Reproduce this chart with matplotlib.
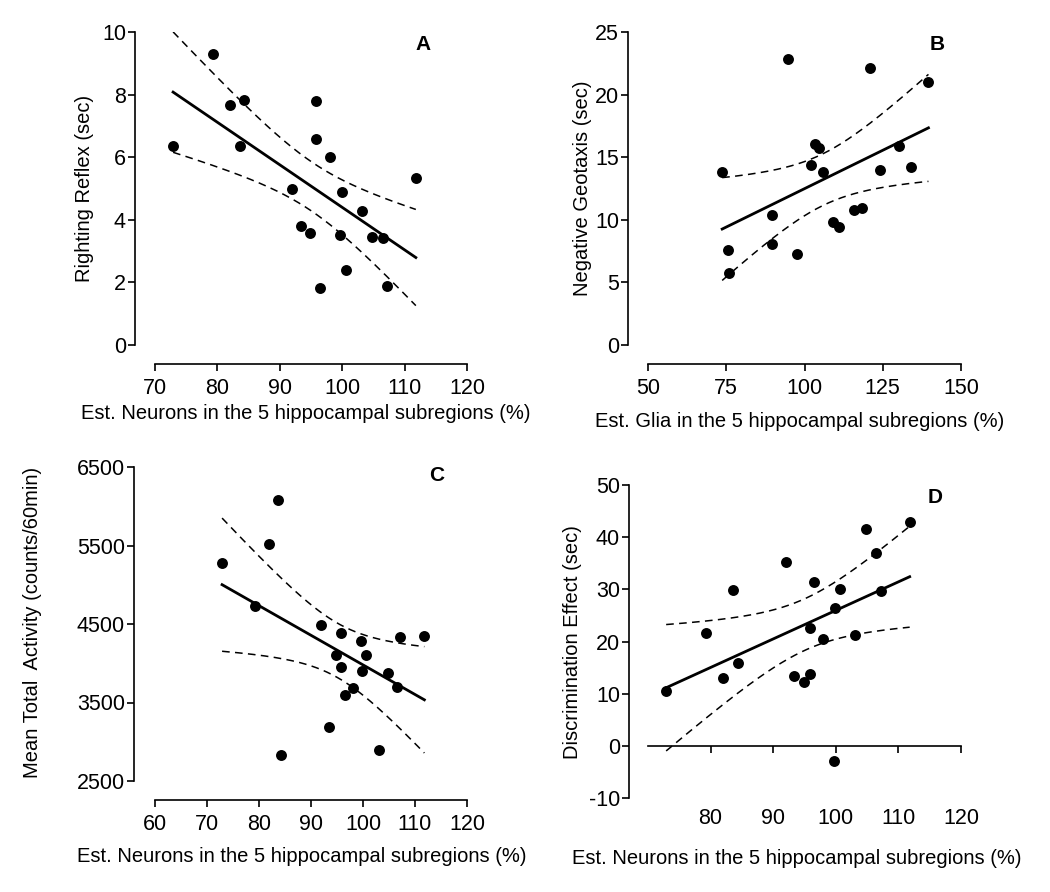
import numpy as np
import matplotlib
matplotlib.use("Agg")
import matplotlib.pyplot as plt

plt.rcParams['font.family'] = ['Liberation Sans', 'DejaVu Sans']
plt.rcParams['axes.unicode_minus'] = False

# Estimated neurons (%), shared by panels A, C and D
neurons = [72.9, 79.3, 82.0, 83.6, 84.3, 92.0, 93.4, 94.9, 95.8, 95.8,
           96.5, 98.0, 99.7, 99.9, 100.6, 103.1, 104.8, 106.5, 107.2, 111.8]
righting = [6.35, 9.31, 7.68, 6.37, 7.84, 4.97, 3.79, 3.59, 7.80, 6.59,
            1.82, 6.01, 3.50, 4.88, 2.39, 4.29, 3.44, 3.41, 1.88, 5.35]
activity = [5275, 4723, 5517, 6083, 2827, 4489, 3193, 4107, 4383, 3949,
            3597, 3686, 4281, 3898, 4107, 2895, 3881, 3703, 4332, 4349]
discrim = [10.6, 21.6, 13.0, 29.8, 15.8, 35.2, 13.4, 12.2, 22.5, 13.8,
           31.4, 20.5, -2.9, 26.4, 30.1, 21.2, 41.6, 36.9, 29.7, 42.9]

# Estimated glia (%) for panel B
glia = [73.7, 75.6, 75.8, 89.6, 89.6, 94.8, 97.5, 102.0, 103.2, 104.6,
        106.0, 109.0, 111.1, 115.8, 118.4, 120.9, 124.1, 130.3, 134.0, 139.6]
geotaxis = [13.78, 7.58, 5.77, 10.35, 8.06, 22.87, 7.26, 14.41, 16.04, 15.77,
            13.78, 9.84, 9.44, 10.77, 10.98, 22.13, 13.96, 15.93, 14.18, 21.01]

W, H = 1050, 892
fig = plt.figure(figsize=(W / 100, H / 100), dpi=100)


def make_axes(left, right, top, bottom):
    return fig.add_axes([left / W, 1 - bottom / H, (right - left) / W, (bottom - top) / H])


def regression(ax, x, y):
    x = np.asarray(x, float)
    y = np.asarray(y, float)
    n = len(x)
    slope, icpt = np.polyfit(x, y, 1)
    xs = np.linspace(x.min(), x.max(), 200)
    fit = slope * xs + icpt
    resid = y - (slope * x + icpt)
    s = np.sqrt(np.sum(resid ** 2) / (n - 2))
    sxx = np.sum((x - x.mean()) ** 2)
    se = s * np.sqrt(1 / n + (xs - x.mean()) ** 2 / sxx)
    t = 2.101  # t(0.975, df=18)
    ax.plot(xs, fit, color='black', lw=2.0, zorder=2)
    ax.plot(xs, fit + t * se, color='black', lw=1.1, ls=(0, (5, 3.5)), zorder=2)
    ax.plot(xs, fit - t * se, color='black', lw=1.1, ls=(0, (5, 3.5)), zorder=2)
    ax.scatter(x, y, s=62, color='black', zorder=3, linewidths=0)


def style(ax, xt, yt, xlabel, ylabel, letter, letter_px, xlab_px, ylab_px):
    ax.spines['top'].set_visible(False)
    ax.spines['right'].set_visible(False)
    for sp in ('left', 'bottom'):
        ax.spines[sp].set_linewidth(1.2)
    ax.spines['left'].set_bounds(yt[0], yt[-1])
    ax.spines['bottom'].set_bounds(xt[0], xt[-1])
    ax.set_yticks(yt)
    ax.tick_params(axis='both', direction='out', length=5, width=1.2, labelsize=15.5)
    ax.tick_params(axis='y', pad=1.5)
    ax.tick_params(axis='x', pad=5)
    ax.set_xlabel(xlabel, fontsize=14.5)
    ax.set_ylabel(ylabel, fontsize=14.5)
    ax.xaxis.label.set_verticalalignment('center')
    ax.yaxis.label.set_verticalalignment('center')
    ax.xaxis.set_label_coords(xlab_px[0] / W, 1 - xlab_px[1] / H, transform=fig.transFigure)
    ax.yaxis.set_label_coords(ylab_px[0] / W, 1 - ylab_px[1] / H, transform=fig.transFigure)
    ax.text(letter_px[0] / W, 1 - letter_px[1] / H, letter, transform=fig.transFigure,
            fontsize=15, fontweight='bold', ha='center', va='center')


neuron_label = 'Est. Neurons in the 5 hippocampal subregions (%)'

# Panel A
axA = make_axes(135, 467, 32, 364)
regression(axA, neurons, righting)
axA.set_xlim(70 - 20 / 6.24, 120)
axA.set_ylim(-19 / 31.3, 10)
axA.set_xticks([70, 80, 90, 100, 110, 120])
style(axA, [70, 80, 90, 100, 110, 120], [0, 2, 4, 6, 8, 10],
      neuron_label, 'Righting Reflex (sec)', 'A', (423, 45), (306, 413), (85, 188))

# Panel B
axB = make_axes(628, 961, 32, 364)
regression(axB, glia, geotaxis)
axB.set_xlim(50 - 20 / 3.13, 150)
axB.set_ylim(-19 / 12.52, 25)
axB.set_xticks([50, 75, 100, 125, 150])
style(axB, [50, 75, 100, 125, 150], [0, 5, 10, 15, 20, 25],
      'Est. Glia in the 5 hippocampal subregions (%)', 'Negative Geotaxis (sec)',
      'B', (937, 45), (800, 422), (583, 188))

# Panel C
axC = make_axes(134, 467, 467, 800)
regression(axC, neurons, activity)
axC.set_xlim(60 - 21 / 5.2, 120)
axC.set_ylim(2500 - 19 / 0.0785, 6500)
axC.set_xticks([60, 70, 80, 90, 100, 110, 120])
style(axC, [60, 70, 80, 90, 100, 110, 120], [2500, 3500, 4500, 5500, 6500],
      neuron_label, 'Mean Total  Activity (counts/60min)', 'C', (437, 475), (302, 857), (33, 622))

# Panel D
axD = make_axes(629, 961, 485, 798)
regression(axD, neurons, discrim)
axD.set_xlim(70 - 19 / 6.26, 120)
axD.set_ylim(-10, 50)
axD.set_xticks([80, 90, 100, 110, 120])
style(axD, [70, 80, 90, 100, 110, 120], [-10, 0, 10, 20, 30, 40, 50],
      neuron_label, 'Discrimination Effect (sec)', 'D', (935, 498), (797, 858), (573, 642))
axD.spines['bottom'].set_position(('data', 0))
axD.tick_params(axis='x', pad=40)

fig.savefig('out.png', dpi=100)
